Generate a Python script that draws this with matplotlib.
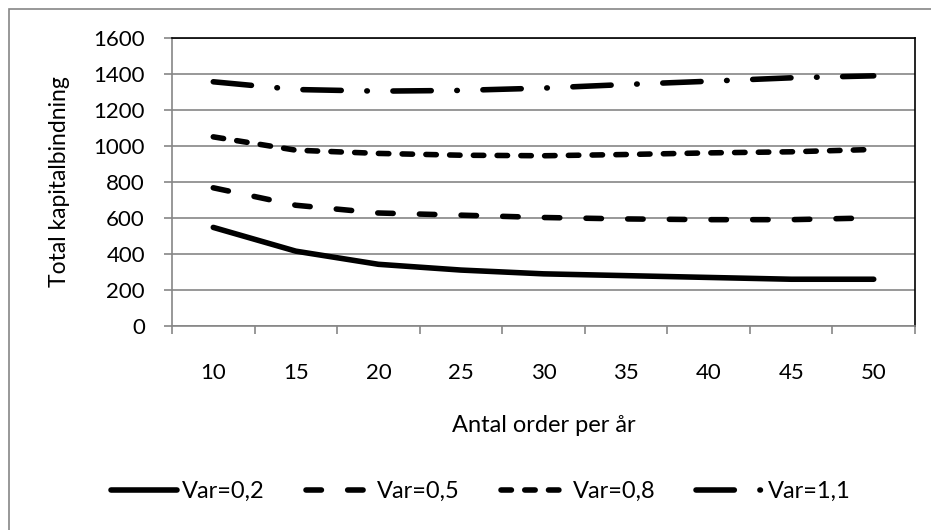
import matplotlib
matplotlib.use("Agg")
import matplotlib.pyplot as plt
from matplotlib.patches import Rectangle
import numpy as np

plt.rcParams['font.family'] = ['Lato', 'DejaVu Sans']
plt.rcParams['lines.scale_dashes'] = False

categories = ["10", "15", "20", "25", "30", "35", "40", "45", "50"]
var_02 = [545, 413, 340, 308, 287, 277, 267, 257, 257]
var_05 = [765, 668, 625, 613, 600, 592, 588, 588, 598]
var_08 = [1048, 974, 956, 946, 943, 950, 959, 965, 978]
var_11 = [1354, 1311, 1302, 1306, 1319, 1339, 1357, 1376, 1387]
series_labels = ["Var=0,2", "Var=0,5", "Var=0,8", "Var=1,1"]
y_ticks = [0, 200, 400, 600, 800, 1000, 1200, 1400, 1600]

W, H = 931, 530
fig = plt.figure(figsize=(W / 100, H / 100), dpi=100)
GRAY = "#868686"
FS = 16
FS_LAB = 17

# outer chart border (only left/top visible, cropped)
fig.patches.append(Rectangle((9 / W, -0.1), 2.0, 1 - 9 / H + 0.1, transform=fig.transFigure,
                             fill=False, edgecolor=GRAY, linewidth=1.2))

left, right, top, bottom = 172, 915, 37.5, 325.5
ax = fig.add_axes([left / W, 1 - bottom / H, (right - left) / W, (bottom - top) / H])

x = np.arange(len(categories))
lw = 4.0
styles = [
    dict(linestyle='-'),
    dict(dashes=(11.1, 18.9)),
    dict(dashes=(7.5, 9.6)),
    dict(dashes=(27.6, 18.4, 0.4, 18.4)),
]
for vals, lab, st in zip([var_02, var_05, var_08, var_11], series_labels, styles):
    ax.plot(x, vals, color='black', linewidth=lw, label=lab,
            solid_capstyle='round', dash_capstyle='round', solid_joinstyle='round', **st)

ax.set_xlim(-0.5, len(categories) - 0.5)
ax.set_ylim(0, 1600)
ax.set_yticks(y_ticks)
ax.set_yticklabels([str(v) for v in y_ticks], fontsize=FS)
ax.yaxis.grid(True, color=GRAY, linewidth=1.2)
ax.set_axisbelow(True)

ax.set_xticks(np.arange(-0.5, len(categories), 1.0))
ax.set_xticklabels([])
ax.set_xticks(x, minor=True)
ax.set_xticklabels(categories, minor=True, fontsize=FS)
ax.tick_params(axis='x', which='minor', length=0, pad=27)
ax.tick_params(axis='x', which='major', length=6, color=GRAY, width=1.2)
ax.tick_params(axis='y', length=6, color=GRAY, width=1.2, pad=13.5)

for s in ['left', 'bottom']:
    ax.spines[s].set_color(GRAY)
    ax.spines[s].set_linewidth(1.2)
for s in ['top', 'right']:
    ax.spines[s].set_color('black')
    ax.spines[s].set_linewidth(1.2)

fig.text(544 / W, 1 - 425 / H, "Antal order per år", ha='center', va='center', fontsize=FS_LAB)
fig.text(60 / W, 1 - 182 / H, "Total kapitalbindning", ha='center', va='center',
         rotation=90, fontsize=FS_LAB - 0.5)

leg = fig.legend(loc='center', bbox_to_anchor=(480.5 / W, 1 - 491.7 / H), ncol=4, frameon=False,
                 fontsize=FS_LAB, handlelength=2.8, handletextpad=0.22, columnspacing=1.75,
                 borderaxespad=0, borderpad=0)

fig.savefig("out.png", dpi=100)
